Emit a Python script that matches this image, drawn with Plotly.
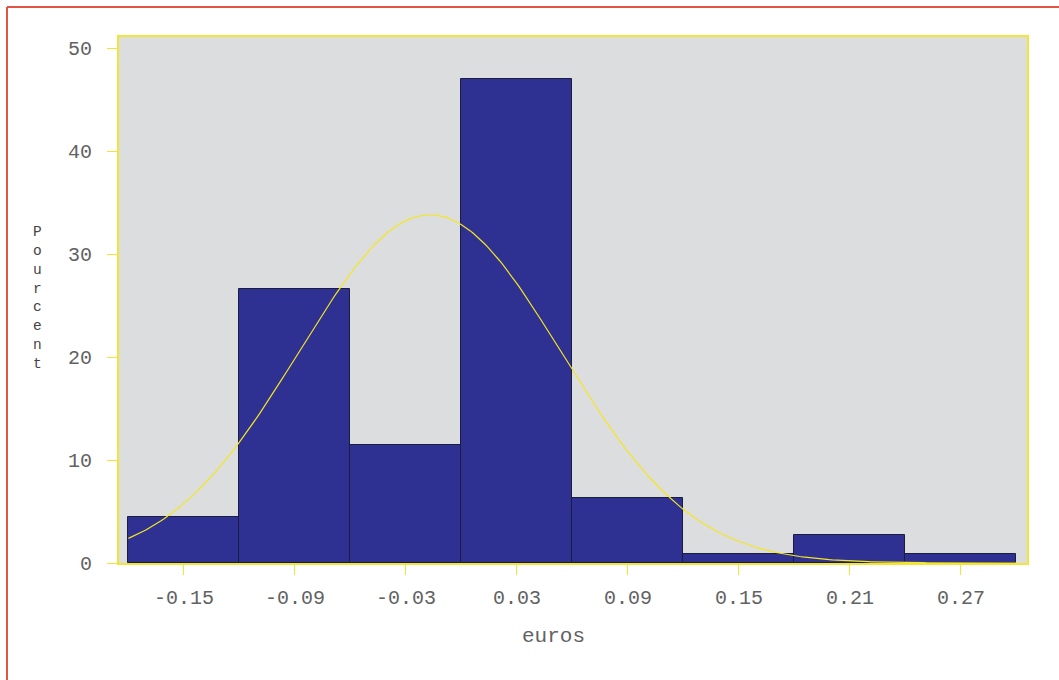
import numpy as np
import plotly.graph_objects as go

# Histogram data (bin midpoints, percent)
bin_mid = [-0.15, -0.09, -0.03, 0.03, 0.09, 0.15, 0.21, 0.27]
percent = [4.5, 26.6, 11.5, 47.0, 6.3, 0.9, 2.7, 0.9]
bin_width = 0.06
# Fitted normal curve parameters
mu = -0.017
sigma = 0.0708
x_ticks = [-0.15, -0.09, -0.03, 0.03, 0.09, 0.15, 0.21, 0.27]
x_tick_labels = ["-0.15", "-0.09", "-0.03", "0.03", "0.09", "0.15", "0.21", "0.27"]
y_ticks = [0, 10, 20, 30, 40, 50]

xc = np.linspace(-0.18, 0.30, 300)
yc = 100 * bin_width / (sigma * np.sqrt(2 * np.pi)) * np.exp(-0.5 * ((xc - mu) / sigma) ** 2)

YEL = "#f2e53a"
TXT = "#626262"
fig = go.Figure()
fig.add_trace(go.Bar(x=bin_mid, y=percent, width=bin_width,
                     marker=dict(color="#2e3192", line=dict(color="#1c1c3c", width=1)),
                     showlegend=False, hoverinfo="x+y"))
fig.add_trace(go.Scatter(x=xc, y=yc, mode="lines", line=dict(color="#f5e61e", width=1.2),
                         showlegend=False))

font = "Liberation Mono, Courier New, monospace"
L, R, T, B = 119, 1027, 37, 563
PW, PH = R - L, B - T
fig.update_layout(
    width=1059, height=680,
    margin=dict(l=L, r=1059 - R, t=T, b=680 - B),
    paper_bgcolor="white", plot_bgcolor="#dcdddf",
    bargap=0,
    font=dict(family=font, color=TXT, size=20),
    xaxis=dict(range=[-0.1851, 0.3057], tickvals=x_ticks, ticktext=x_tick_labels,
               showline=True, linecolor=YEL, linewidth=2, mirror=True,
               ticks="outside", ticklen=10, tickcolor=YEL, tickwidth=1,
               ticklabelstandoff=5,
               showgrid=False, zeroline=False, tickfont=dict(size=20, color=TXT)),
    yaxis=dict(range=[0, 51.07], tickvals=y_ticks,
               showline=True, linecolor=YEL, linewidth=2, mirror=True,
               ticks="outside", ticklen=10, tickcolor=YEL, tickwidth=1,
               ticklabelstandoff=11,
               showgrid=False, zeroline=False, tickfont=dict(size=20, color=TXT)),
    shapes=[
        dict(type="line", xref="paper", yref="paper", x0=(7 - L) / PW, x1=(7 - L) / PW,
             y0=(B - 7) / PH, y1=-0.3, line=dict(color="#e05545", width=2)),
        dict(type="line", xref="paper", yref="paper", x0=(7 - L) / PW, x1=1.1,
             y0=(B - 7) / PH, y1=(B - 7) / PH, line=dict(color="#e05545", width=2)),
    ],
    annotations=[
        dict(text="euros", xref="paper", yref="paper", x=(553 - L) / PW, y=-(636 - B) / PH,
             showarrow=False, xanchor="center", yanchor="middle",
             font=dict(family=font, size=21, color=TXT)),
        dict(text="<br>".join(list("Pourcent")), xref="paper", yref="paper",
             x=(37 - L) / PW, y=(B - 298) / PH, showarrow=False,
             xanchor="center", yanchor="middle", align="center",
             font=dict(family=font, size=14.5, color="#444444")),
    ],
)
fig.write_html("out.html", config={"displayModeBar": False},
               post_script="document.body.style.margin='0';")
